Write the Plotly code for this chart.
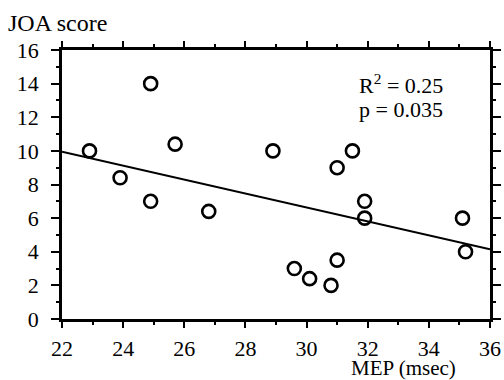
import plotly.graph_objects as go

mep = [22.9, 23.9, 24.9, 24.9, 25.7, 26.8, 28.9, 29.6, 30.1, 30.8, 31.0, 31.0, 31.5, 31.9, 31.9, 35.1, 35.2]
joa = [10.0, 8.4, 14.0, 7.0, 10.4, 6.4, 10.0, 3.0, 2.4, 2.0, 3.5, 9.0, 10.0, 7.0, 6.0, 6.0, 4.0]
fit_x = [22, 36]
fit_y = [9.95, 4.15]
x_ticks = [22, 24, 26, 28, 30, 32, 34, 36]
y_ticks = [0, 2, 4, 6, 8, 10, 12, 14, 16]

FONT = "Liberation Serif"

fig = go.Figure()
fig.add_trace(go.Scatter(x=fit_x, y=fit_y, mode="lines",
                         line=dict(color="black", width=2), showlegend=False))
fig.add_trace(go.Scatter(x=mep, y=joa, mode="markers",
                         marker=dict(symbol="circle-open", size=13, color="black",
                                     line=dict(width=2.6, color="black")),
                         showlegend=False))

axis_common = dict(showgrid=False, zeroline=False, showline=True, linecolor="black",
                   linewidth=2.5, mirror="allticks", ticks="outside", tickcolor="black",
                   tickwidth=2, automargin=False,
                   tickfont=dict(family=FONT, size=22, color="black"))

fig.update_xaxes(range=[22, 36], tickvals=x_ticks, ticklen=6, ticklabelstandoff=2,
                 minor=dict(ticks="outside", dtick=1, ticklen=3, tickwidth=2, tickcolor="black"),
                 **axis_common)
fig.update_yaxes(range=[0, 16], tickvals=y_ticks, ticklen=8, ticklabelstandoff=8,
                 minor=dict(ticks="outside", dtick=1, ticklen=3, tickwidth=2, tickcolor="black"),
                 **axis_common)

fig.add_annotation(x=0, y=1, xref="paper", yref="paper", xshift=-56, yshift=42,
                   text="JOA score", showarrow=False, xanchor="left", yanchor="top",
                   font=dict(family=FONT, size=24, color="black"))
fig.add_annotation(x=1, y=0, xref="paper", yref="paper", xshift=-32, yshift=-63,
                   text="MEP (msec)", showarrow=False, xanchor="right", yanchor="bottom",
                   font=dict(family=FONT, size=21, color="black"))
fig.add_annotation(x=31.65, y=13.95, xref="x", yref="y", text="R<sup>2</sup> = 0.25",
                   showarrow=False, xanchor="left", yanchor="middle",
                   font=dict(family=FONT, size=22, color="black"))
fig.add_annotation(x=31.65, y=12.45, xref="x", yref="y", text="p = 0.035",
                   showarrow=False, xanchor="left", yanchor="middle",
                   font=dict(family=FONT, size=22, color="black"))

fig.update_layout(width=504, height=380, margin=dict(l=62, r=14, t=50, b=61),
                  paper_bgcolor="white", plot_bgcolor="white")

fig.write_html("out.html", config={"displayModeBar": False},
               post_script="document.body.style.margin='0';document.body.style.overflow='hidden';")
